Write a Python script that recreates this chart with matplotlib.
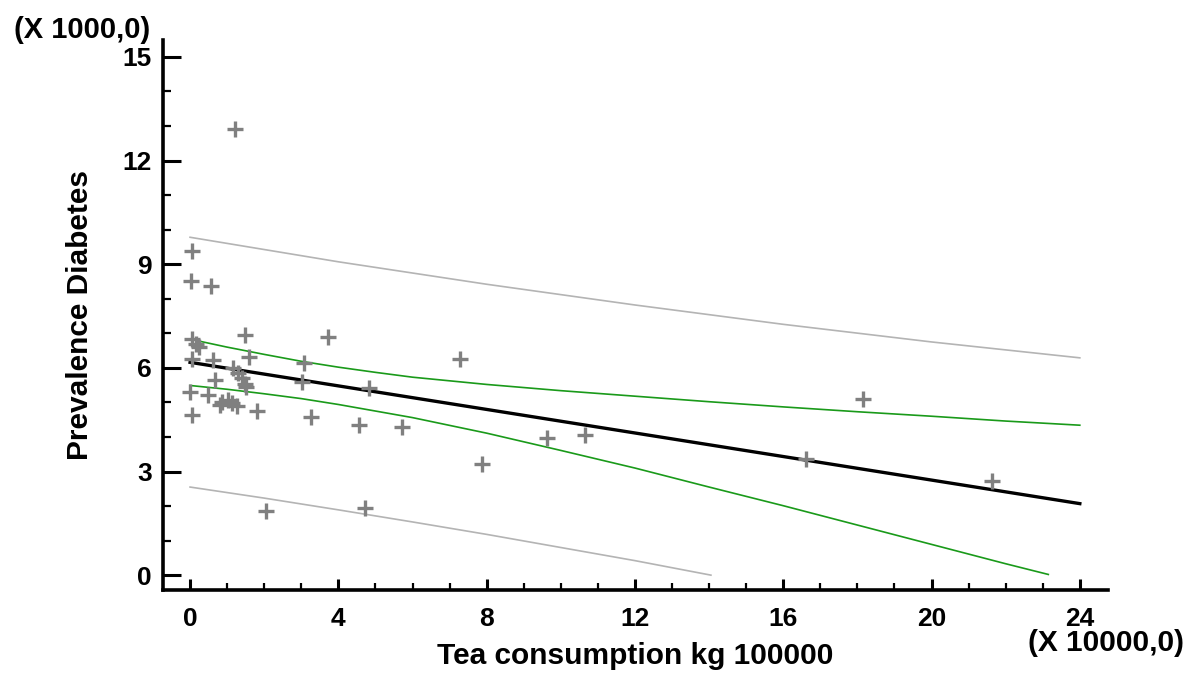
#!/usr/bin/env python3
import matplotlib
matplotlib.use("Agg")
import matplotlib.pyplot as plt
from matplotlib.ticker import MultipleLocator

# Scatter data, in axis units (tea x 10000 kg, prevalence x 1000)
tea_consumption = [
    1.21, 0.06, 0.02, 0.56, 1.48, 3.73, 0.05, 0.15, 0.25, 7.28,
    1.59, 0.05, 0.63, 3.07, 1.17, 1.30, 0.67, 1.39, 3.03, 1.48,
    1.52, 4.84, 0.00, 0.49, 0.85, 1.03, 1.12, 0.81, 1.26, 1.80,
    0.05, 3.25, 4.57, 5.71, 10.65, 9.62, 7.88, 16.61, 21.62, 18.14,
    4.72, 2.05,
]
prevalence = [
    12.92, 9.39, 8.52, 8.37, 6.95, 6.88, 6.83, 6.70, 6.60, 6.26,
    6.32, 6.25, 6.23, 6.15, 6.00, 5.85, 5.66, 5.70, 5.60, 5.52,
    5.44, 5.41, 5.30, 5.21, 5.00, 5.07, 4.98, 4.92, 4.90, 4.76,
    4.63, 4.58, 4.36, 4.30, 4.07, 3.96, 3.23, 3.35, 2.73, 5.10,
    1.94, 1.85,
]

# Fitted model and bands
fit_x = [0, 24]
fit_y = [6.16, 2.07]

band_x = [0, 1, 2, 3, 4, 5, 6, 8, 10, 12, 14, 16, 18, 20, 22, 24]
conf_upper = [6.83, 6.60, 6.39, 6.19, 6.02, 5.87, 5.73, 5.52, 5.34, 5.18,
              5.02, 4.87, 4.73, 4.60, 4.46, 4.34]
conf_lower_x = [0, 1, 2, 3, 4, 5, 6, 8, 10, 12, 14, 16, 18, 20, 22, 23.15]
conf_lower = [5.49, 5.38, 5.25, 5.11, 4.94, 4.75, 4.56, 4.11, 3.61, 3.10,
              2.55, 2.01, 1.45, 0.89, 0.33, 0.02]
pred_upper_x = [0, 4, 8, 12, 16, 20, 24]
pred_upper = [9.78, 9.07, 8.42, 7.82, 7.26, 6.75, 6.29]
pred_lower_x = [0, 2, 4, 6, 8, 12, 14.05]
pred_lower = [2.55, 2.23, 1.89, 1.54, 1.18, 0.42, 0.0]

x_ticks = [0, 4, 8, 12, 16, 20, 24]
y_ticks = [0, 3, 6, 9, 12, 15]


def setup_style():
    plt.rcParams.update({
        "font.family": ["Liberation Sans", "DejaVu Sans"],
        "font.weight": "bold",
        "font.size": 19,
    })


def main():
    setup_style()
    fig = plt.figure(figsize=(11.91, 6.75), dpi=100)
    ax = fig.add_axes([163 / 1191, 1 - 590 / 675, 945 / 1191, 550 / 675])

    ax.plot(pred_upper_x, pred_upper, color="#b4b4b4", lw=1.2)
    ax.plot(pred_lower_x, pred_lower, color="#b4b4b4", lw=1.2)
    ax.plot(band_x, conf_upper, color="#1a9a1a", lw=1.2)
    ax.plot(conf_lower_x, conf_lower, color="#1a9a1a", lw=1.2)
    ax.plot(fit_x, fit_y, color="black", lw=2.4)
    ax.plot(tea_consumption, prevalence, linestyle="none", marker="+",
            color="#808080", markersize=12, markeredgewidth=2.4)

    ax.set_xlim(-0.73, 24.76)
    ax.set_ylim(-0.43, 15.49)
    for side in ("top", "right"):
        ax.spines[side].set_visible(False)
    for side in ("left", "bottom"):
        ax.spines[side].set_linewidth(2.6)

    ax.set_xticks(x_ticks)
    ax.set_yticks(y_ticks)
    ax.xaxis.set_minor_locator(MultipleLocator(1))
    ax.yaxis.set_minor_locator(MultipleLocator(1))
    ax.tick_params(axis="x", which="major", direction="in", length=8, width=2.2, pad=12)
    ax.tick_params(axis="x", which="minor", direction="in", length=5, width=1.6)
    ax.tick_params(axis="y", which="major", direction="in", length=13, width=2.2, pad=8)
    ax.tick_params(axis="y", which="minor", direction="in", length=6, width=1.6)
    for lbl in ax.get_xticklabels() + ax.get_yticklabels():
        lbl.set_fontweight("bold")

    ax.set_xlabel("Tea consumption kg 100000", fontsize=21.5, fontweight="bold")
    ax.xaxis.set_label_coords(0.5, -0.12)
    ax.xaxis.label.set_va("center")
    ax.set_ylabel("Prevalence Diabetes", fontsize=21.5, fontweight="bold")
    ax.yaxis.set_label_coords(-0.088, 0.5)
    ax.yaxis.label.set_va("center")

    fig.text(150 / 1191, 1 - 30 / 675, "(X 1000,0)", ha="right", va="center",
             fontsize=21, fontweight="bold")
    fig.text(1028 / 1191, 1 - 643 / 675, "(X 10000,0)", ha="left", va="center",
             fontsize=21.5, fontweight="bold")

    fig.savefig("out.png", dpi=100)
    plt.close(fig)


if __name__ == "__main__":
    main()
